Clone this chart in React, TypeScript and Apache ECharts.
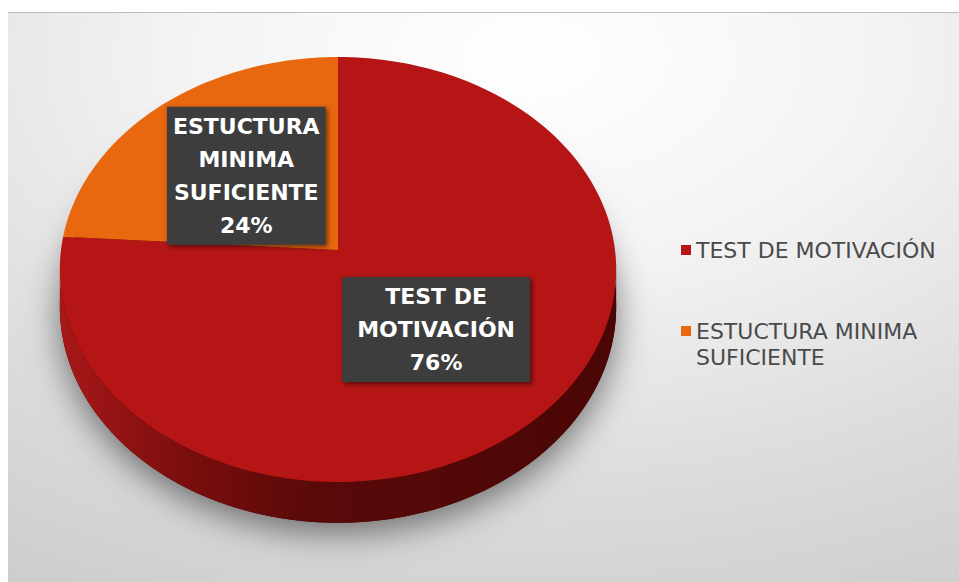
import React, { useEffect, useRef } from 'react';
import * as echarts from 'echarts';

const categories = ['TEST DE MOTIVACIÓN', 'ESTUCTURA MINIMA SUFICIENTE'];
const values = [76, 24];
const labelLines = [['TEST DE', 'MOTIVACIÓN'], ['ESTUCTURA', 'MINIMA', 'SUFICIENTE']];
const legendLines = [['TEST DE MOTIVACIÓN'], ['', 'ESTUCTURA MINIMA', 'SUFICIENTE']];
const topColors = ['#b51515', '#e8670f'];
const labelPadding = [[3, 15], [3, 6]];

// layout of the 3D pie (perspective ellipse)
const CX = 338;
const CY = 250;
const RX = 277;
const RY = 210.7;
const K = 0.092;
const DEPTH = 37;
const LABEL_R = 0.5;
const TWO_PI = Math.PI * 2;
const WALL_A = Math.acos(-K);
const WALL_B = TWO_PI - WALL_A;

function proj(th: number, r: number): [number, number, number] {
  const u = r * Math.sin(th);
  const v = -r * Math.cos(th);
  const s = 1 / (1 - K * v);
  return [CX + RX * u * s, CY + RY * v * s, s];
}

function arcAngles(a: number, b: number): number[] {
  const n = Math.max(2, Math.ceil(((b - a) / TWO_PI) * 240));
  const out: number[] = [];
  for (let j = 0; j <= n; j++) out.push(a + ((b - a) * j) / n);
  return out;
}

const total = values.reduce((s, v) => s + v, 0);
const starts = values.map((_, i) => values.slice(0, i).reduce((s, v) => s + v, 0));

function makeRender(i: number) {
  return (params: any, api: any) => {
    const start = api.value(0);
    const val = api.value(1);
    const tot = api.value(2);
    const t0 = (start / tot) * TWO_PI;
    const t1 = ((start + val) / tot) * TWO_PI;
    const angles = arcAngles(t0, t1);
    const topPts: number[][] = [[CX, CY]];
    const botPts: number[][] = [[CX, CY + DEPTH]];
    angles.forEach((t) => {
      const p = proj(t, 1);
      topPts.push([p[0], p[1]]);
      botPts.push([p[0], p[1] + DEPTH * p[2]]);
    });
    const children: any[] = [
      {
        type: 'polygon',
        z2: 0,
        shape: { points: botPts },
        style: {
          fill: '#3a0505',
          shadowBlur: 34,
          shadowColor: 'rgba(0,0,0,0.5)',
          shadowOffsetY: 10,
        },
      },
    ];
    const a0 = Math.max(t0, WALL_A);
    const a1 = Math.min(t1, WALL_B);
    if (a1 > a0) {
      const wa = arcAngles(a0, a1);
      const up = wa.map((t) => {
        const p = proj(t, 1);
        return [p[0], p[1]];
      });
      const dn = wa
        .map((t) => {
          const p = proj(t, 1);
          return [p[0], p[1] + DEPTH * p[2]];
        })
        .reverse();
      children.push({
        type: 'polygon',
        z2: 5,
        shape: { points: up.concat(dn) },
        style: {
          fill: new echarts.graphic.LinearGradient(0, 0, 1, 0, [
            { offset: 0, color: '#a81818' },
            { offset: 0.22, color: '#7c0e0e' },
            { offset: 0.45, color: '#5a0909' },
            { offset: 1, color: '#4a0606' },
          ]),
        },
      });
    }
    children.push({
      type: 'polygon',
      z2: 10,
      shape: { points: topPts },
      style: { fill: api.visual('color') },
    });
    const mid = (t0 + t1) / 2;
    const lp = proj(mid, LABEL_R);
    const pct = Math.round((val / tot) * 100) + '%';
    children.push({
      type: 'text',
      z2: 20,
      x: lp[0],
      y: lp[1],
      style: {
        text: labelLines[i].concat([pct]).join('\n'),
        fill: '#ffffff',
        fontFamily: 'DejaVu Sans',
        fontWeight: 'bold',
        fontSize: 22,
        lineHeight: 33,
        align: 'center',
        verticalAlign: 'middle',
        backgroundColor: '#3d3d3d',
        padding: labelPadding[i],
        shadowBlur: 5,
        shadowColor: 'rgba(0,0,0,0.55)',
        shadowOffsetX: 2,
        shadowOffsetY: 2,
      },
    });
    return { type: 'group', children };
  };
}

export default function App() {
  const ref = useRef<HTMLDivElement>(null);
  useEffect(() => {
    if (!ref.current) return;
    const chart = echarts.init(ref.current, null, { renderer: 'svg' });
    chart.setOption({
      animation: false,
      graphic: [
        {
          type: 'rect',
          silent: true,
          z: -10,
          shape: { x: 8, y: 12, width: 951, height: 570 },
          style: {
            fill: new echarts.graphic.RadialGradient(0.55, 0.08, 1.25, [
              { offset: 0, color: '#ffffff' },
              { offset: 0.3, color: '#f3f3f3' },
              { offset: 0.6, color: '#dcdcdc' },
              { offset: 1, color: '#c4c4c4' },
            ]),
          },
        },
        {
          type: 'line',
          silent: true,
          z: -9,
          shape: { x1: 8, y1: 12.5, x2: 959, y2: 12.5 },
          style: { stroke: '#bdbdbd', lineWidth: 1 },
        },
      ],
      legend: {
        orient: 'vertical',
        left: 681,
        top: 237,
        padding: 0,
        itemWidth: 10,
        itemHeight: 10,
        itemGap: 29,
        icon: 'rect',
        selectedMode: false,
        data: categories,
        formatter: (name: string) => legendLines[categories.indexOf(name)].join('\n'),
        textStyle: {
          fontFamily: 'DejaVu Sans',
          fontSize: 22,
          color: '#4a4a4a',
          lineHeight: 26,
        },
      },
      series: values.map((v, i) => ({
        type: 'custom',
        name: categories[i],
        coordinateSystem: 'none',
        silent: true,
        z: 2,
        itemStyle: { color: topColors[i] },
        renderItem: makeRender(i),
        data: [[starts[i], v, total]],
      })),
    });
    return () => chart.dispose();
  }, []);
  return (
    <div
      ref={ref}
      style={{ position: 'absolute', left: 0, top: 0, width: 959, height: 582 }}
    />
  );
}
